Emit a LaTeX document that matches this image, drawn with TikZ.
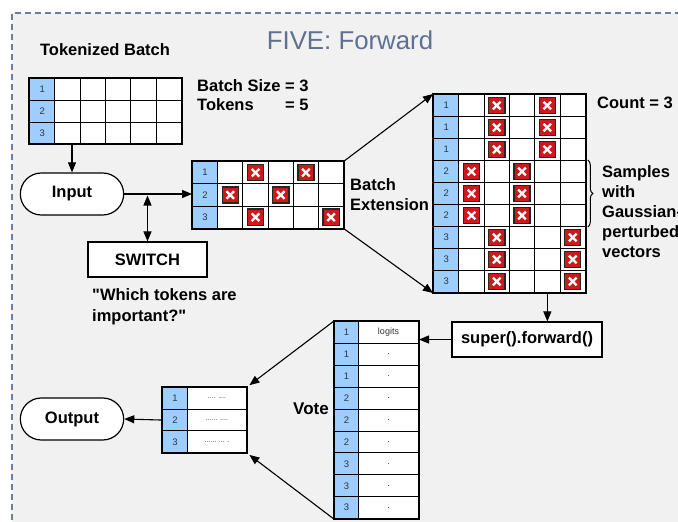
\documentclass[tikz,border=0pt]{standalone}
\usepackage{fontspec}
\setmainfont{Liberation Sans}
\newfontfamily\qfont{Liberation Sans}
\usetikzlibrary{arrows.meta,decorations.pathreplacing,shapes.misc}
\definecolor{bgc}{HTML}{F1F1F1}
\definecolor{framec}{HTML}{6C7E99}
\definecolor{titlec}{HTML}{5E7191}
\definecolor{idblue}{HTML}{9ECEFF}
\definecolor{xred}{HTML}{CC1A1A}
\definecolor{numc}{HTML}{333333}
\tikzset{
  wcell/.style={draw=black, line width=1pt, fill=white, inner sep=0pt, anchor=north west},
  idcell/.style={wcell, fill=idblue, text=numc, font=\fontsize{9.5}{10}\selectfont},
  txtcell/.style={wcell, text=numc, font=\fontsize{9}{10}\selectfont},
  xmark/.style={draw=black!85, line width=1.4pt, fill=xred, minimum size=16.2pt, inner sep=0pt,
    path picture={\draw[white,line width=2.3pt]
      ([shift={(-3.8pt,-3.8pt)}]path picture bounding box.center) -- ([shift={(3.8pt,3.8pt)}]path picture bounding box.center)
      ([shift={(-3.8pt,3.8pt)}]path picture bounding box.center) -- ([shift={(3.8pt,-3.8pt)}]path picture bounding box.center);}},
  lbl/.style={font=\fontsize{16.5}{20}\selectfont\bfseries, inner sep=0pt},
  pill/.style={rounded rectangle, draw=black, line width=1.2pt, fill=white, minimum width=110pt, minimum height=42pt, font=\fontsize{16.5}{18}\selectfont\bfseries},
  boxc/.style={rectangle, draw=black, line width=1.2pt, fill=white, font=\fontsize{16.5}{18}\selectfont\bfseries},
  arr/.style={line width=1.1pt, -{Triangle[length=10pt,width=8pt]}},
  arrb/.style={line width=1.1pt, {Triangle[length=10pt,width=8pt]}-{Triangle[length=10pt,width=8pt]}},
  outer/.style={line width=1.6pt}
}
\begin{document}
\begin{tikzpicture}[x=1pt,y=-1pt]
\useasboundingbox (0,0) rectangle (678,522);
\fill[white] (0,0) rectangle (678,522);
\fill[bgc] (12,13) rectangle (690,540);
\draw[framec, line width=1.3pt, dash pattern=on 6pt off 4pt] (12,540) -- (12,13) -- (690,13);

\node[font=\fontsize{25.8}{30}\selectfont, text=titlec] (title) at (350,40) {FIVE: Forward};
\node[lbl] (tbtitle) at (105,50) {Tokenized Batch};

% Tokenized batch grid
\foreach \r in {1,2,3} {
  \node[idcell, minimum width=25.3pt, minimum height=21.8pt] (T-\r-0) at (29,{78+(\r-1)*21.8}) {\r};
  \foreach \c in {1,...,5}
    \node[wcell, minimum width=25.3pt, minimum height=21.8pt] (T-\r-\c) at ({29+\c*25.3},{78+(\r-1)*21.8}) {};
}
\draw[outer] (T-1-0.north west) rectangle (T-3-5.south east);

\node[lbl, anchor=west, font=\fontsize{16.5}{19.5}\selectfont\bfseries] (bsize) at (197,97)
  {\begin{tabular}{@{}l@{\ }l@{}}Batch Size&= 3\\Tokens&= 5\end{tabular}};

% Middle grid
\foreach \r in {1,2,3} {
  \node[idcell, minimum width=25.2pt, minimum height=22.3pt] (M-\r-0) at (192,{161+(\r-1)*22.3}) {\r};
  \foreach \c in {1,...,5}
    \node[wcell, minimum width=25.2pt, minimum height=22.3pt] (M-\r-\c) at ({192+\c*25.2},{161+(\r-1)*22.3}) {};
}
\draw[outer] (M-1-0.north west) rectangle (M-3-5.south east);
\foreach \r/\c in {1/2,1/4,2/1,2/3,3/2,3/5}
  \node[xmark] (MX-\r-\c) at (M-\r-\c) {};

% Big grid
\foreach \r/\id in {1/1,2/1,3/1,4/2,5/2,6/2,7/3,8/3,9/3} {
  \node[idcell, minimum width=25.3pt, minimum height=22pt] (B-\r-0) at (433,{94+(\r-1)*22}) {\id};
  \foreach \c in {1,...,5}
    \node[wcell, minimum width=25.3pt, minimum height=22pt] (B-\r-\c) at ({433+\c*25.3},{94+(\r-1)*22}) {};
}
\draw[outer] (B-1-0.north west) rectangle (B-9-5.south east);
\foreach \r/\c in {1/2,1/4,2/2,2/4,3/2,3/4,4/1,4/3,5/1,5/3,6/1,6/3,7/2,7/5,8/2,8/5,9/2,9/5}
  \node[xmark] (BX-\r-\c) at (B-\r-\c) {};

\node[lbl, anchor=west] (count) at (597,103) {Count = 3};
\draw[line width=1pt, decorate, decoration={brace, amplitude=5pt}]
  ([xshift=2pt]B-4-5.north east) -- ([xshift=2pt]B-6-5.south east);
\node[lbl, anchor=north west, align=left] (samples) at (602,165)
  {Samples\\with\\Gaussian-\\perturbed\\vectors};

\node[lbl, anchor=west, align=left] (bext) at (350,195) {Batch\\Extension};

% Input / switch
\node[pill] (input) at (72,194) {Input};
\node[boxc, minimum width=119pt, minimum height=35pt] (switch) at (147.5,259.5) {SWITCH};
\node[lbl, anchor=north west, align=left, font=\fontsize{16.5}{21}\selectfont\bfseries] (question) at (92,288)
  {{\qfont"}Which tokens are\\important?{\qfont"}};

% super box
\node[boxc, minimum width=150pt, minimum height=35pt] (super) at (527,339.5) {super().forward()};

% Logits table
\foreach \r/\id/\t in {1/1/logits,2/1/.,3/1/.,4/2/.,5/2/.,6/2/.,7/3/.,8/3/.,9/3/.} {
  \node[idcell, minimum width=24pt, minimum height=21.9pt] (L-\r-0) at (334,{321+(\r-1)*21.9}) {\id};
  \node[txtcell, minimum width=60pt, minimum height=21.9pt] (L-\r-1) at (358,{321+(\r-1)*21.9}) {\t};
}
\draw[outer] (L-1-0.north west) rectangle (L-9-1.south east);
\node[lbl, font=\fontsize{17}{20}\selectfont\bfseries] (vote) at (311,409) {Vote};

% Output table
\foreach \r/\t in {1/{.... ....},2/{...... ....},3/{...... ... .}} {
  \node[idcell, minimum width=25pt, minimum height=21.7pt] (O-\r-0) at (162,{387+(\r-1)*21.7}) {\r};
  \node[txtcell, minimum width=59pt, minimum height=21.7pt, font=\fontsize{7}{8}\selectfont] (O-\r-1) at (187,{387+(\r-1)*21.7}) {\t};
}
\draw[outer] (O-1-0.north west) rectangle (O-3-1.south east);
\node[pill] (output) at (72,419) {Output};

% Connectors
\draw[arr] (input.north |- T-3-1.south) -- (input.north);
\draw[arr] (input.east) -- (input.east -| M-2-0.west);
\draw[arrb, shorten <=1.5pt] (input.east -| switch.north) -- (switch.north);
\draw[arr] (M-1-5.north east) -- (B-1-0.north west);
\draw[arr] (M-3-5.south east) -- (B-9-0.south west);
\draw[arr] (B-9-4.south) -- (B-9-4.south |- super.north);
\draw[arr] (super.west) -- (super.west -| L-1-1.east);
\draw[arr, shorten >=3pt] (L-1-0.north west) -- (O-1-1.north east);
\draw[arr, shorten >=3pt] (L-9-0.south west) -- (O-3-1.south east);
\draw[arr] (O-2-0.west) -- (output.east);
\end{tikzpicture}
\end{document}
